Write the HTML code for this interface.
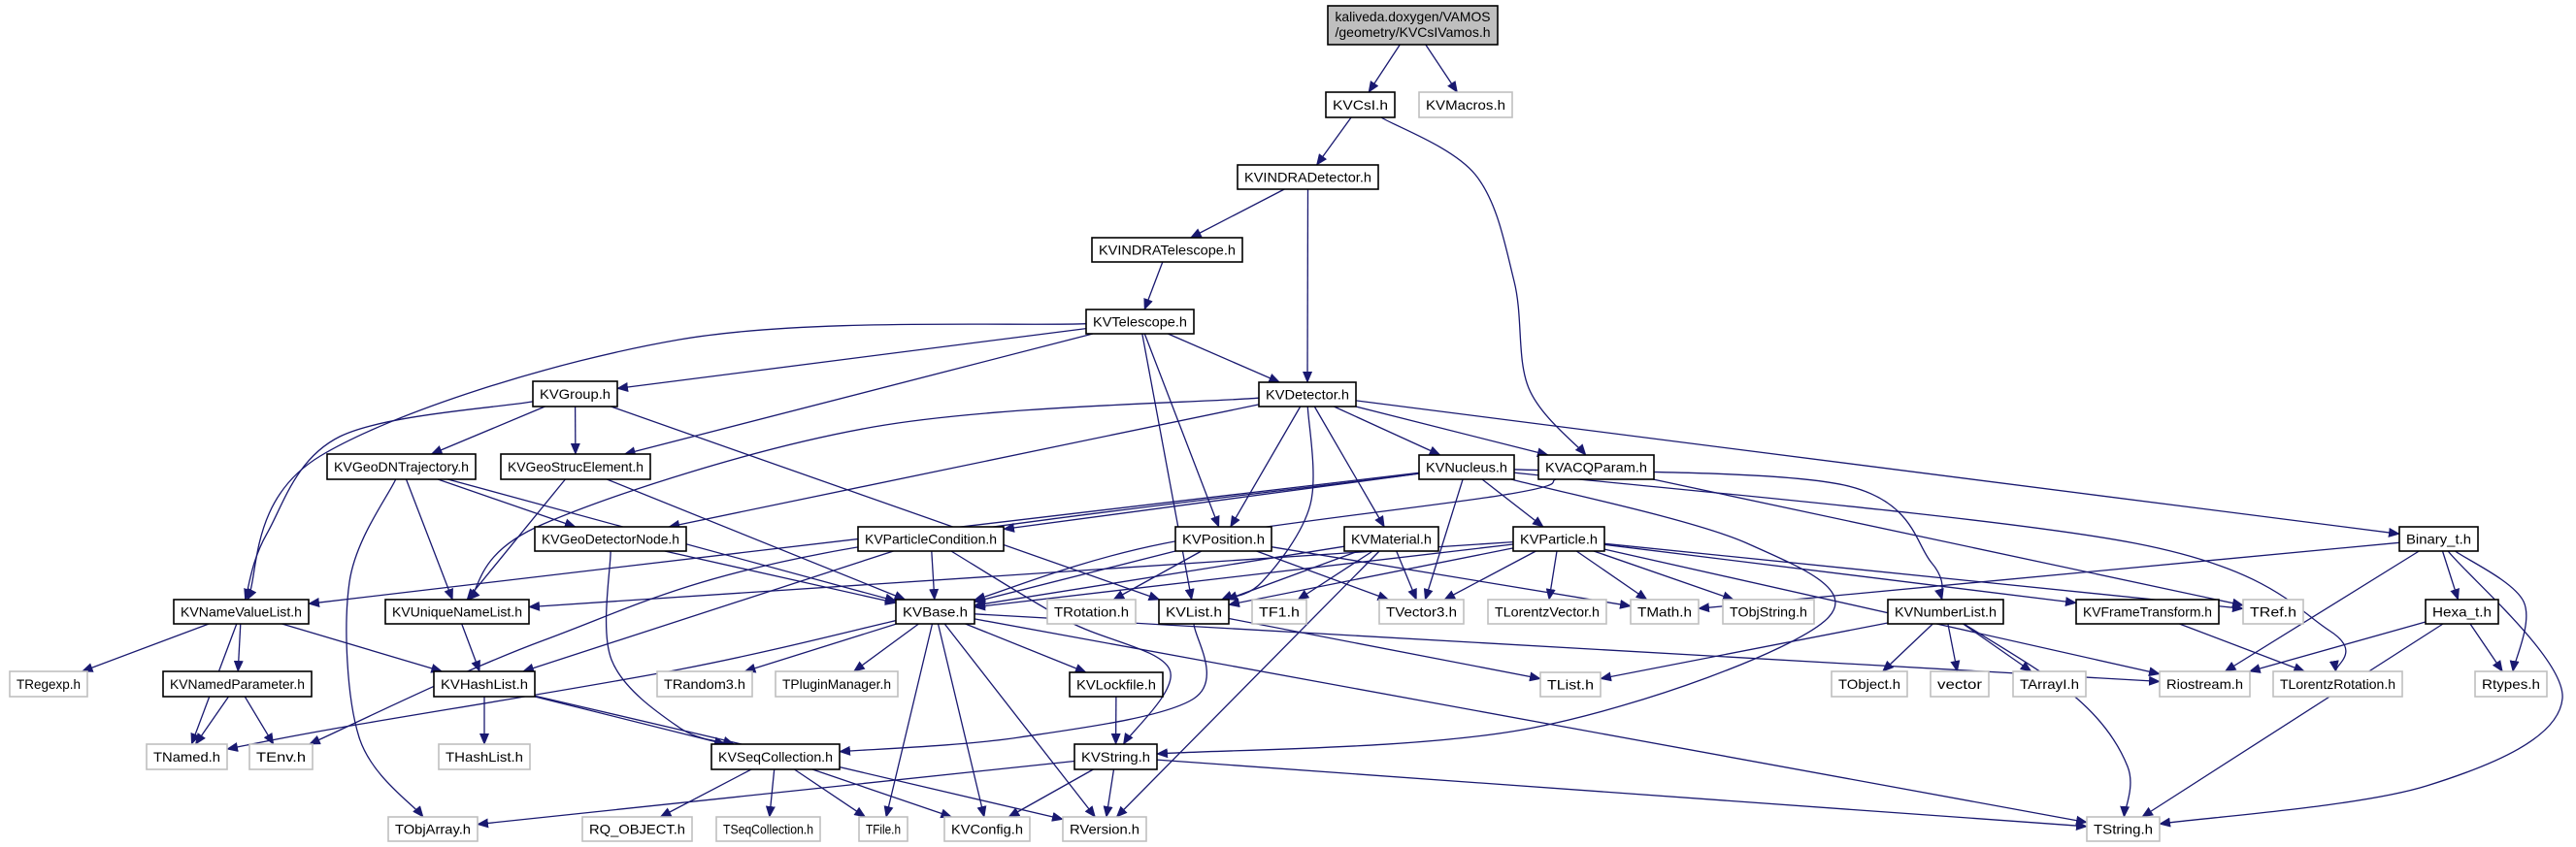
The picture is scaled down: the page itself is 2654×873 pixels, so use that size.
<!DOCTYPE html>
<html><head><meta charset="utf-8">
<style>
html,body{margin:0;padding:0;background:#fff;}
svg{display:block;}
text{font-family:"Liberation Sans",sans-serif;font-size:14px;fill:#000;}
.d rect{fill:#fff;stroke:#000;stroke-width:1.6;}
.u rect{fill:#fff;stroke:#bfbfbf;stroke-width:1.6;}
.m rect{fill:#bfbfbf;stroke:#000;stroke-width:1.6;}
path.e{fill:none;stroke:#191970;stroke-width:1.3;}
</style></head><body>
<svg id="s" width="2654" height="873" viewBox="0 0 2654 873" xmlns="http://www.w3.org/2000/svg">
<defs><marker id="a" markerUnits="userSpaceOnUse" markerWidth="12" markerHeight="10" refX="11" refY="5" orient="auto"><path d="M0,0 L12,5 L0,10 Z" fill="#191970"/></marker></defs>
<g id="edges"></g>
<g id="nodes">
<g class="m" id="main"><rect x="1368" y="6" width="175" height="40"/><text x="1455.5" y="22" text-anchor="middle" textLength="160" lengthAdjust="spacingAndGlyphs">kaliveda.doxygen/VAMOS</text><text x="1455.5" y="38" text-anchor="middle" textLength="160" lengthAdjust="spacingAndGlyphs">/geometry/KVCsIVamos.h</text></g>
</g>
</svg>
<script>
var N={
KVCsI:[1366,1437,95,121,'KVCsI.h','d'],
KVMacros:[1462,1558,95,121,'KVMacros.h','u'],
KVINDRADetector:[1275,1420,170,195,'KVINDRADetector.h','d'],
KVINDRATelescope:[1125,1280,245,270,'KVINDRATelescope.h','d'],
KVTelescope:[1119,1230,319,344,'KVTelescope.h','d'],
KVGroup:[549,636,393,419,'KVGroup.h','d'],
KVDetector:[1297,1397,394,419,'KVDetector.h','d'],
KVGeoDNTrajectory:[337,490,468,494,'KVGeoDNTrajectory.h','d'],
KVGeoStrucElement:[516,670,468,494,'KVGeoStrucElement.h','d'],
KVNucleus:[1462,1560,469,494,'KVNucleus.h','d'],
KVACQParam:[1585,1704,469,494,'KVACQParam.h','d'],
KVGeoDetectorNode:[551,707,543,568,'KVGeoDetectorNode.h','d'],
KVParticleCondition:[884,1034,543,568,'KVParticleCondition.h','d'],
KVPosition:[1211,1310,543,568,'KVPosition.h','d'],
KVMaterial:[1385,1482,543,568,'KVMaterial.h','d'],
KVParticle:[1559,1653,543,568,'KVParticle.h','d'],
Binary_t:[2472,2553,543,568,'Binary_t.h','d'],
KVNameValueList:[179,318,618,643,'KVNameValueList.h','d'],
KVUniqueNameList:[397,545,618,643,'KVUniqueNameList.h','d'],
KVBase:[923,1004,618,643,'KVBase.h','d'],
TRotation:[1079,1170,618,643,'TRotation.h','u'],
KVList:[1194,1266,618,643,'KVList.h','d'],
TF1:[1290,1346,618,643,'TF1.h','u'],
TVector3:[1421,1508,618,643,'TVector3.h','u'],
TLorentzVector:[1533,1655,618,643,'TLorentzVector.h','u'],
TMath:[1680,1750,618,643,'TMath.h','u'],
TObjString:[1775,1869,618,643,'TObjString.h','u'],
KVNumberList:[1945,2064,618,643,'KVNumberList.h','d'],
KVFrameTransform:[2139,2286,618,643,'KVFrameTransform.h','d'],
TRef:[2311,2373,618,643,'TRef.h','u'],
Hexa_t:[2499,2574,618,643,'Hexa_t.h','d'],
TRegexp:[10,90,692,718,'TRegexp.h','u'],
KVNamedParameter:[168,321,692,718,'KVNamedParameter.h','d'],
KVHashList:[447,551,692,718,'KVHashList.h','d'],
TRandom3:[677,775,692,718,'TRandom3.h','u'],
TPluginManager:[799,925,692,718,'TPluginManager.h','u'],
KVLockfile:[1102,1198,693,718,'KVLockfile.h','d'],
TList:[1587,1649,693,718,'TList.h','u'],
TObject:[1887,1965,692,718,'TObject.h','u'],
vector:[1989,2049,692,718,'vector','u'],
TArrayI:[2074,2149,692,718,'TArrayI.h','u'],
Riostream:[2225,2318,692,718,'Riostream.h','u'],
TLorentzRotation:[2342,2475,692,718,'TLorentzRotation.h','u'],
Rtypes:[2550,2624,692,718,'Rtypes.h','u'],
TNamed:[151,234,767,793,'TNamed.h','u'],
TEnv:[257,322,767,793,'TEnv.h','u'],
THashList:[452,546,767,793,'THashList.h','u'],
KVSeqCollection:[733,865,767,793,'KVSeqCollection.h','d'],
KVString:[1107,1192,767,793,'KVString.h','d'],
TObjArray:[400,492,842,867,'TObjArray.h','u'],
RQ_OBJECT:[600,713,842,867,'RQ_OBJECT.h','u'],
TSeqCollection:[738,845,842,867,'TSeqCollection.h','u'],
TFile:[885,935,842,867,'TFile.h','u'],
KVConfig:[973,1061,842,867,'KVConfig.h','u'],
RVersion:[1095,1181,842,867,'RVersion.h','u'],
TString:[2150,2225,842,867,'TString.h','u']
};
N.main=[1368,1543,6,46,'','m'];
var V={
"KVCsI KVACQParam":[[1520,180],[1560,290],[1575,400]],
"KVTelescope KVNameValueList":[[700,350],[330,470]],
"KVGroup KVNameValueList":[[350,450],[275,550]],
"KVNucleus KVString":[[1800,560],[1880,640],[1580,750]],
"KVNucleus TEnv":[[850,570],[560,660]],
"KVNucleus TLorentzRotation":[[2200,560],[2400,650]],
"KVNucleus KVNumberList":[[1900,500],[1990,580]],
"Binary_t TString":[[2640,720],[2500,810]],
"Binary_t Rtypes":[[2600,620]],
"KVGeoDNTrajectory TObjArray":[[360,600],[370,760]],
"KVGeoDetectorNode KVSeqCollection":[[630,680],[700,750]],
"KVDetector KVList":[[1350,520],[1300,600]],
"KVList KVSeqCollection":[[1230,720],[1050,760]],
"KVParticleCondition KVString":[[1100,640],[1205,690]],
"KVACQParam KVBase":[[1550,510],[1200,560]],
"KVDetector KVUniqueNameList":[[900,440],[560,540]],
"KVNumberList TString":[[2140,720],[2192,790]],
"KVBase TNamed":[[700,690],[350,750]]
};
var E="main KVCsI;main KVMacros;KVCsI KVINDRADetector;KVCsI KVACQParam;KVINDRADetector KVINDRATelescope;KVINDRADetector KVDetector;KVINDRATelescope KVTelescope;KVTelescope KVNameValueList;KVTelescope KVGroup;KVTelescope KVGeoStrucElement;KVTelescope KVDetector;KVTelescope KVPosition;KVTelescope KVList;KVGroup KVNameValueList;KVGroup KVGeoDNTrajectory;KVGroup KVGeoStrucElement;KVGroup KVList;KVGeoDNTrajectory KVUniqueNameList;KVGeoDNTrajectory KVGeoDetectorNode;KVGeoDNTrajectory TObjArray;KVGeoDNTrajectory KVBase;KVGeoStrucElement KVUniqueNameList;KVGeoStrucElement KVBase;KVGeoDetectorNode KVBase;KVGeoDetectorNode KVSeqCollection;KVDetector KVUniqueNameList;KVDetector KVGeoDetectorNode;KVDetector KVPosition;KVDetector KVList;KVDetector KVMaterial;KVDetector KVNucleus;KVDetector KVACQParam;KVDetector Binary_t;KVNucleus KVNameValueList;KVNucleus KVParticleCondition;KVNucleus TEnv;KVNucleus KVString;KVNucleus KVNumberList;KVNucleus KVParticle;KVNucleus TVector3;KVNucleus TLorentzRotation;KVACQParam KVBase;KVACQParam TRef;KVParticle KVBase;KVParticle KVList;KVParticle KVUniqueNameList;KVParticle TVector3;KVParticle TLorentzVector;KVParticle TMath;KVParticle TObjString;KVParticle KVFrameTransform;KVParticle TRef;KVParticle Riostream;KVPosition KVBase;KVPosition TRotation;KVPosition TVector3;KVPosition TMath;KVMaterial KVBase;KVMaterial KVList;KVMaterial TF1;KVMaterial TVector3;KVMaterial RVersion;KVParticleCondition KVBase;KVParticleCondition KVHashList;KVParticleCondition KVString;KVBase TNamed;KVBase TRandom3;KVBase TPluginManager;KVBase KVLockfile;KVBase TFile;KVBase KVConfig;KVBase RVersion;KVBase TString;KVBase Riostream;KVNameValueList TRegexp;KVNameValueList TNamed;KVNameValueList KVNamedParameter;KVNameValueList KVHashList;KVNamedParameter TNamed;KVNamedParameter TEnv;KVUniqueNameList KVHashList;KVHashList THashList;KVHashList KVSeqCollection;KVHashList RVersion;KVSeqCollection RQ_OBJECT;KVSeqCollection TSeqCollection;KVSeqCollection TFile;KVSeqCollection KVConfig;KVList KVSeqCollection;KVList TList;KVLockfile KVString;KVString TObjArray;KVString KVConfig;KVString RVersion;KVString TString;KVNumberList TObject;KVNumberList vector;KVNumberList TArrayI;KVNumberList TString;KVNumberList TList;KVFrameTransform TLorentzRotation;Binary_t TMath;Binary_t Riostream;Binary_t Hexa_t;Binary_t Rtypes;Binary_t TString;Hexa_t Riostream;Hexa_t Rtypes;Hexa_t TString";
var NS="http://www.w3.org/2000/svg";
var ng=document.getElementById('nodes'),eg=document.getElementById('edges');
for(var k in N){if(k=='main')continue;var n=N[k];var g=document.createElementNS(NS,'g');g.setAttribute('class',n[5]);
var r=document.createElementNS(NS,'rect');r.setAttribute('x',n[0]);r.setAttribute('y',n[2]);r.setAttribute('width',n[1]-n[0]);r.setAttribute('height',n[3]-n[2]);g.appendChild(r);
var t=document.createElementNS(NS,'text');t.setAttribute('x',(n[0]+n[1])/2);t.setAttribute('y',(n[2]+n[3])/2+5);t.setAttribute('text-anchor','middle');t.setAttribute('textLength',n[1]-n[0]-14);t.setAttribute('lengthAdjust','spacingAndGlyphs');t.textContent=n[4];g.appendChild(t);ng.appendChild(g);}
function clip(b,px,py,qx,qy){var dx=qx-px,dy=qy-py,t=1;var hw=(b[1]-b[0])/2,hh=(b[3]-b[2])/2;
if(dx!=0)t=Math.min(t,hw/Math.abs(dx));if(dy!=0)t=Math.min(t,hh/Math.abs(dy));return [px+dx*t,py+dy*t];}
function f(p){return p[0].toFixed(1)+','+p[1].toFixed(1);}
E.split(';').forEach(function(s){var p=s.split(' '),a=N[p[0]],b=N[p[1]];if(!a||!b)return;
var ax=(a[0]+a[1])/2,ay=(a[2]+a[3])/2,bx=(b[0]+b[1])/2,by=(b[2]+b[3])/2;
var via=V[s]||[];var d;
if(via.length==0){var s1=clip(a,ax,ay,bx,by),e1=clip(b,bx,by,ax,ay);d='M'+f(s1)+' L'+f(e1);}
else{var s1=clip(a,ax,ay,via[0][0],via[0][1]),e1=clip(b,bx,by,via[via.length-1][0],via[via.length-1][1]);
var P=[s1].concat(via).concat([e1]);d='M'+f(P[0]);
for(var i=0;i<P.length-1;i++){var p0=P[Math.max(0,i-1)],p1=P[i],p2=P[i+1],p3=P[Math.min(P.length-1,i+2)];
var c1=[p1[0]+(p2[0]-p0[0])/6,p1[1]+(p2[1]-p0[1])/6],c2=[p2[0]-(p3[0]-p1[0])/6,p2[1]-(p3[1]-p1[1])/6];
d+=' C'+f(c1)+' '+f(c2)+' '+f(p2);}}
var path=document.createElementNS(NS,'path');path.setAttribute('class','e');path.setAttribute('d',d);
path.setAttribute('marker-end','url(#a)');eg.appendChild(path);});
</script>
</body></html>
